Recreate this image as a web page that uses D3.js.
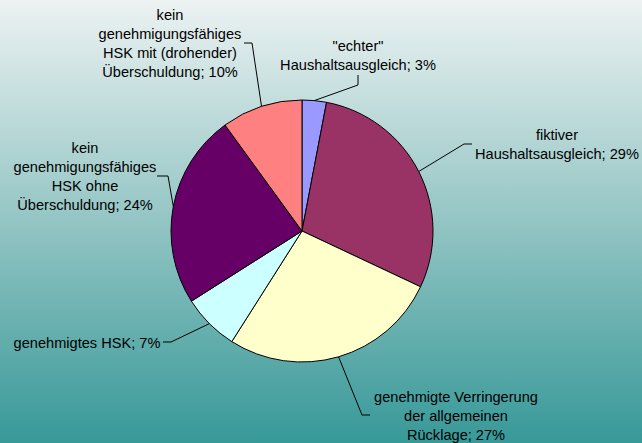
<!DOCTYPE html>
<html>
<head>
  <meta charset="utf-8">
  <title>Haushaltsausgleich</title>
  <script src="https://d3js.org/d3.v7.min.js"></script>
  <style>
    body { margin: 0; }
    svg { display: block; }
    text { font-family: "Liberation Sans", Arial, sans-serif; font-size: 14.6px; fill: #000; }
  </style>
</head>
<body>
<div id="chart"></div>
<script>
// Daten (Reihenfolge im Uhrzeigersinn ab 12 Uhr)
var labels = [
  ['"echter"', 'Haushaltsausgleich; 3%'],
  ['fiktiver', 'Haushaltsausgleich; 29%'],
  ['genehmigte Verringerung', 'der allgemeinen', 'Rücklage; 27%'],
  ['genehmigtes HSK; 7%'],
  ['kein', 'genehmigungsfähiges', 'HSK ohne', 'Überschuldung; 24%'],
  ['kein', 'genehmigungsfähiges', 'HSK mit (drohender)', 'Überschuldung; 10%']
];
var values = [3, 29, 27, 7, 24, 10];
var colors = ['#9999ff', '#993366', '#ffffcc', '#ccffff', '#660066', '#ff8080'];

var width = 642, height = 443;
var cx = 302, cy = 231, radius = 131;

var svg = d3.select('#chart').append('svg')
  .attr('width', width)
  .attr('height', height);

// Hintergrundverlauf
var grad = svg.append('defs').append('linearGradient')
  .attr('id', 'bg').attr('x1', 0).attr('y1', 0).attr('x2', 0).attr('y2', 1);
grad.append('stop').attr('offset', '0%').attr('stop-color', '#ecf2f2');
grad.append('stop').attr('offset', '50%').attr('stop-color', '#93c5c4');
grad.append('stop').attr('offset', '100%').attr('stop-color', '#379998');
svg.append('rect').attr('width', width).attr('height', height).attr('fill', 'url(#bg)');

var pie = d3.pie().sort(null).value(function (d) { return d; });
var arc = d3.arc().innerRadius(0).outerRadius(radius);
var arcs = pie(values);

var g = svg.append('g').attr('transform', 'translate(' + cx + ',' + cy + ')');

g.selectAll('path.slice')
  .data(arcs)
  .enter()
  .append('path')
    .attr('class', 'slice')
    .attr('d', arc)
    .attr('fill', function (d, i) { return colors[i]; })
    .attr('stroke', '#000')
    .attr('stroke-width', 1);

// Beschriftungen: Ankerpunkt des Textblocks, Knick der Führungslinie, Ende
var labelPos = [
  { x: 358, y: 46, bend: [[358, 85], [358, 75]] },
  { x: 557, y: 135, bend: [[464, 144], [472, 144]] },
  { x: 456, y: 397, bend: [[362, 415], [370, 415]] },
  { x: 87, y: 343, bend: [[171, 342], [163, 342]] },
  { x: 85, y: 148, bend: [[168, 176], [157, 176]] },
  { x: 170, y: 15, bend: [[252, 43], [244, 43]] }
];
var lineH = 19;

arcs.forEach(function (a, i) {
  var p = labelPos[i];
  var mid = (a.startAngle + a.endAngle) / 2;
  var ex = cx + Math.sin(mid) * radius;
  var ey = cy - Math.cos(mid) * radius;
  var pts = [[ex, ey]].concat(p.bend);
  svg.append('path')
    .attr('d', d3.line()(pts))
    .attr('fill', 'none')
    .attr('stroke', '#000')
    .attr('stroke-width', 1);

  var t = svg.append('text')
    .attr('text-anchor', 'middle');
  labels[i].forEach(function (line, k) {
    t.append('tspan')
      .attr('x', p.x)
      .attr('y', p.y + k * lineH)
      .attr('dy', '0.35em')
      .text(line);
  });
});
</script>
</body>
</html>
